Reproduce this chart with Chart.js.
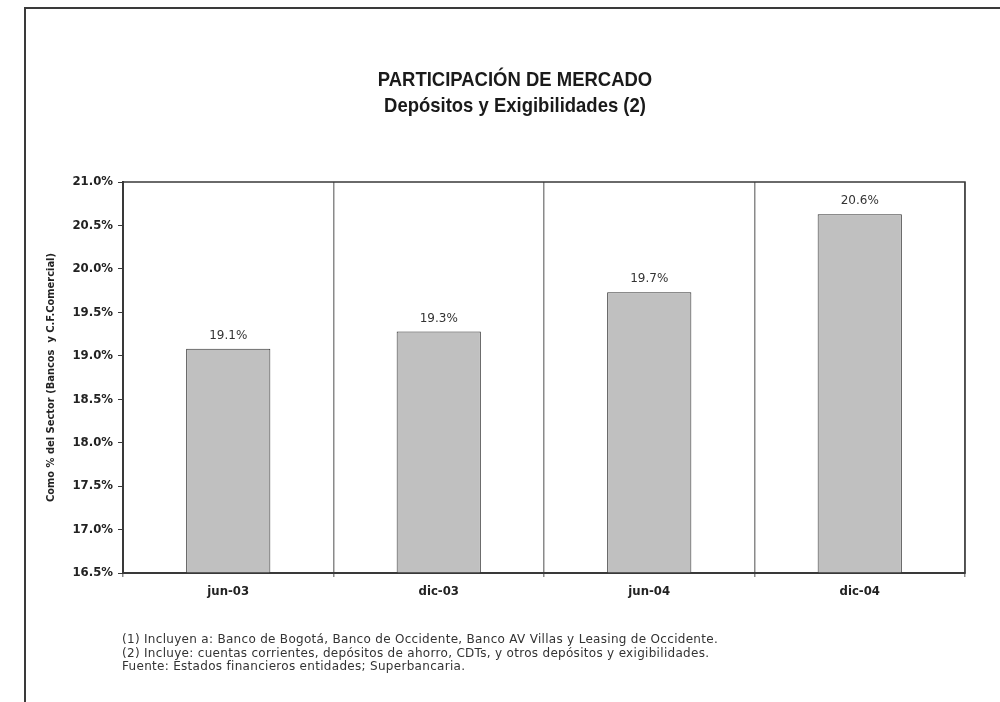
<!DOCTYPE html>
<html>
<head>
<meta charset="utf-8">
<script src="https://cdn.jsdelivr.net/npm/chart.js"></script>
<style>
  body { margin: 0; background: #fff; }
  #wrap { position: relative; width: 1000px; height: 702px; overflow: hidden; }
  #frame { position: absolute; left: 24px; top: 7px; width: 1000px; height: 720px;
           border-left: 2px solid #3a3a3a; border-top: 2px solid #3a3a3a; }
  canvas { position: absolute; left: 0; top: 0; }
  #notes { position: absolute; left: 122px; top: 633px; font: 12px "DejaVu Sans", sans-serif;
           letter-spacing: 0.3px; color: #333; line-height: 13.5px; white-space: nowrap; }
</style>
</head>
<body>
<div id="wrap">
  <div id="frame"></div>
  <canvas id="chart" width="1000" height="702"></canvas>
  <div id="notes"></div>
</div>
<script>
// Chart data
const periods = ["jun-03", "dic-03", "jun-04", "dic-04"]
const shareValues = [19.08, 19.28, 19.73, 20.63]
const titleLines = ["PARTICIPACIÓN DE MERCADO", "Depósitos y Exigibilidades (2)"]
const yAxisTitle = "Como % del Sector (Bancos  y C.F.Comercial)"
const footnotes = [
  "(1) Incluyen a: Banco de Bogotá, Banco de Occidente, Banco AV Villas y Leasing de Occidente.",
  "(2) Incluye: cuentas corrientes, depósitos de ahorro, CDTs, y otros depósitos y exigibilidades.",
  "Fuente: Estados financieros entidades; Superbancaria.",
]

const NARROW = '"DejaVu Sans Condensed", "Liberation Sans", sans-serif'

document.getElementById("notes").innerHTML = footnotes.join("<br>")

// Title drawn centered over the framed page, squeezed like a narrow face
const titlePlugin = {
  id: "pageTitle",
  afterDraw(chart) {
    const ctx = chart.ctx
    ctx.save()
    ctx.fillStyle = "#1a1a1a"
    ctx.font = 'bold 21px "Liberation Sans", sans-serif'
    ctx.textAlign = "center"
    ctx.textBaseline = "middle"
    ctx.translate(515, 0)
    ctx.scale(0.88, 1)
    titleLines.forEach((line, i) => ctx.fillText(line, 0, 80 + i * 26))
    ctx.restore()
  },
}

// Value labels above bars + frame around the plot
const labelPlugin = {
  id: "barLabels",
  afterDatasetsDraw(chart) {
    const ctx = chart.ctx
    const area = chart.chartArea
    ctx.save()
    ctx.strokeStyle = "#3a3a3a"
    ctx.lineWidth = 1.5
    ctx.strokeRect(area.left, area.top, area.right - area.left, area.bottom - area.top)
    ctx.fillStyle = "#333"
    ctx.font = '12px "DejaVu Sans", sans-serif'
    ctx.textAlign = "center"
    ctx.textBaseline = "middle"
    chart.getDatasetMeta(0).data.forEach((bar, i) => {
      ctx.fillText(shareValues[i].toFixed(1) + "%", bar.x, bar.y - 13)
    })
    ctx.restore()
  },
}

new Chart(document.getElementById("chart"), {
  type: "bar",
  data: {
    labels: periods,
    datasets: [
      {
        data: shareValues,
        backgroundColor: "#c0c0c0",
        borderColor: "#333",
        borderWidth: 1,
        categoryPercentage: 0.4,
        barPercentage: 1,
      },
    ],
  },
  options: {
    responsive: false,
    animation: false,
    layout: { padding: { top: 182, right: 35, left: 0, bottom: 0 } },
    plugins: { legend: { display: false }, title: { display: false }, tooltip: { enabled: false } },
    scales: {
      x: {
        afterFit(scale) { scale.height = 129 },
        grid: { offset: true, color: "#8a8a8a", lineWidth: 1.5, tickLength: 4, drawOnChartArea: true },
        border: { color: "#3a3a3a", width: 2 },
        ticks: { color: "#222", padding: 7, font: { family: NARROW, size: 13, weight: "bold" } },
      },
      y: {
        min: 16.5,
        max: 21.0,
        afterFit(scale) { scale.width = 123 },
        ticks: {
          stepSize: 0.5,
          color: "#222",
          padding: 5,
          font: { family: NARROW, size: 13, weight: "bold" },
          callback: (v) => v.toFixed(1) + "%",
        },
        grid: { drawOnChartArea: false, color: "#3a3a3a", tickLength: 5 },
        border: { color: "#3a3a3a", width: 2 },
        title: {
          display: true,
          text: yAxisTitle,
          color: "#222",
          padding: { top: 45, bottom: 0 },
          font: { family: NARROW, size: 11, weight: "bold" },
        },
      },
    },
  },
  plugins: [titlePlugin, labelPlugin],
})
</script>
</body>
</html>
